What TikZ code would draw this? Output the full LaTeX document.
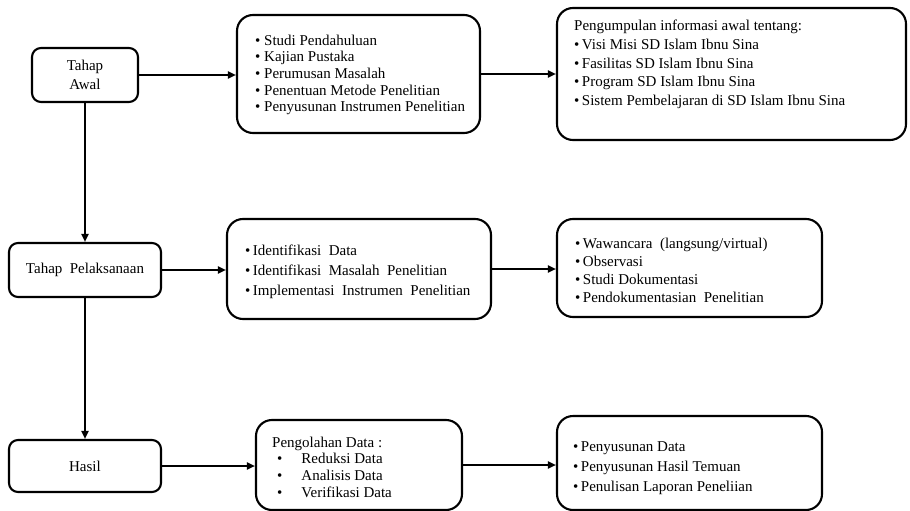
\documentclass[tikz,border=0pt]{standalone}
\usepackage{fontspec}
\setmainfont{Liberation Serif}
\usetikzlibrary{arrows.meta}
\begin{document}
\begin{tikzpicture}[x=1pt,y=-1pt,
  box/.style={draw, line width=2.1pt, rounded corners=9pt, inner sep=0pt},
  bigbox/.style={draw, line width=2.1pt, rounded corners=16pt, inner sep=0pt},
  txt/.style={anchor=west, align=left, inner sep=0pt},
  conn/.style={line width=1.8pt, -{Triangle[length=8pt,width=7pt]}}]
\useasboundingbox (0,0) rectangle (910,511);
% left column
\node[box, minimum width=106pt, minimum height=54pt, align=center,
  font=\fontsize{15}{19}\selectfont] (awal) at (85,75) {Tahap\\Awal};
\node[box, minimum width=152pt, minimum height=54pt,
  font=\fontsize{15}{18}\selectfont] (pel) at (85,270) {Tahap\ \ Pelaksanaan};
\node[box, minimum width=152pt, minimum height=52pt,
  font=\fontsize{15}{18}\selectfont] (hasil) at (85,466) {Hasil};
% middle column
\node[bigbox, minimum width=243pt, minimum height=118pt] (intro) at (358.5,74) {};
\node[bigbox, minimum width=264pt, minimum height=100pt] (mid2) at (359,269) {};
\node[bigbox, minimum width=206pt, minimum height=90pt] (bot2) at (359,465) {};
% right column
\node[bigbox, minimum width=349pt, minimum height=132pt] (info) at (731.5,74) {};
\node[bigbox, minimum width=265pt, minimum height=98pt] (mid3) at (689.5,268) {};
\node[bigbox, minimum width=265pt, minimum height=94pt] (bot3) at (689.5,463) {};
% texts
\node[txt, font=\fontsize{15}{16.7}\selectfont] (introtxt) at (255,75) {%
\textbullet\ Studi Pendahuluan\\
\textbullet\ Kajian Pustaka\\
\textbullet\ Perumusan Masalah\\
\textbullet\ Penentuan Metode Penelitian\\
\textbullet\ Penyusunan Instrumen Penelitian};
\node[txt, font=\fontsize{15}{18.7}\selectfont] (infotxt) at (574,64.5) {%
Pengumpulan informasi awal tentang:\\
\textbullet\,Visi Misi SD Islam Ibnu Sina\\
\textbullet\,Fasilitas SD Islam Ibnu Sina\\
\textbullet\,Program SD Islam Ibnu Sina\\
\textbullet\,Sistem Pembelajaran di SD Islam Ibnu Sina};
\node[txt, font=\fontsize{15}{20}\selectfont] (mid2txt) at (245,272) {%
\textbullet\,Identifikasi\ \ Data\\
\textbullet\,Identifikasi\ \ Masalah\ \ Penelitian\\
\textbullet\,Implementasi\ \ Instrumen\ \ Penelitian};
\node[txt, font=\fontsize{15}{18}\selectfont] (mid3txt) at (575,270.5) {%
\textbullet\,Wawancara\ \ (langsung/virtual)\\
\textbullet\,Observasi\\
\textbullet\,Studi Dokumentasi\\
\textbullet\,Pendokumentasian\ \ Penelitian};
\node[txt, font=\fontsize{15}{16.7}\selectfont] (bot2txt) at (272,467) {%
Pengolahan Data :\\
\hspace*{5pt}\textbullet\hspace{19pt}Reduksi Data\\
\hspace*{5pt}\textbullet\hspace{19pt}Analisis Data\\
\hspace*{5pt}\textbullet\hspace{19pt}Verifikasi Data};
\node[txt, font=\fontsize{15}{20}\selectfont] (bot3txt) at (573,468.5) {%
\textbullet\,Penyusunan Data\\
\textbullet\,Penyusunan Hasil Temuan\\
\textbullet\,Penulisan Laporan Peneliian};
% connectors
\draw[conn] (awal.east) -- (awal.east -| intro.west);
\draw[conn] (intro.east) -- (intro.east -| info.west);
\draw[conn] (awal.south) -- (awal.south |- pel.north);
\draw[conn] (pel.east) -- (pel.east -| mid2.west);
\draw[conn] (mid2.east) -- (mid2.east -| mid3.west);
\draw[conn] (pel.south) -- (pel.south |- hasil.north);
\draw[conn] (hasil.east) -- (hasil.east -| bot2.west);
\draw[conn] (bot2.east) -- (bot2.east -| bot3.west);
\end{tikzpicture}
\end{document}
